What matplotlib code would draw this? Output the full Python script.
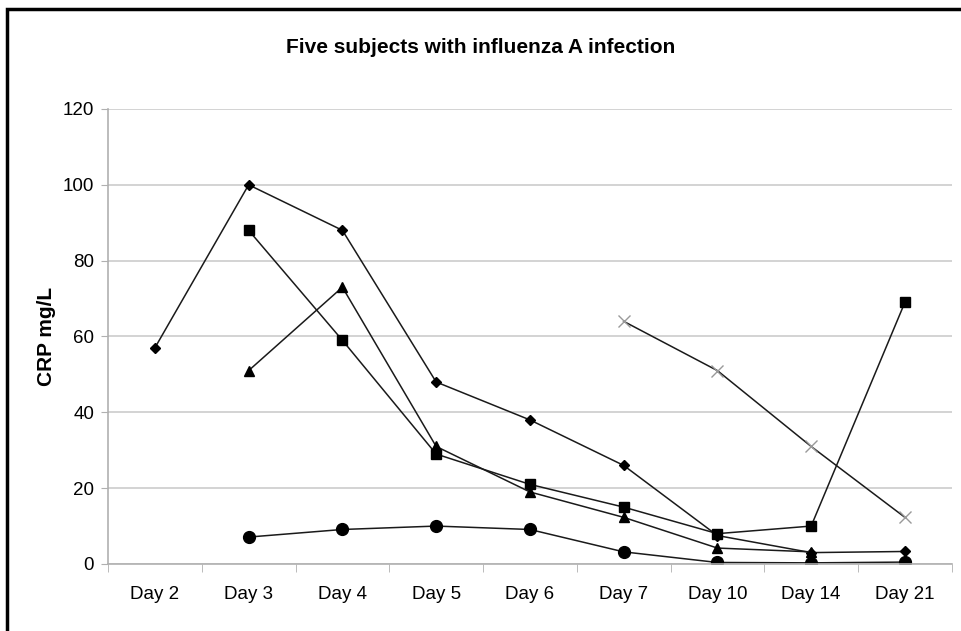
import numpy as np
import matplotlib.pyplot as plt
from matplotlib.patches import Rectangle

days = ['Day 2', 'Day 3', 'Day 4', 'Day 5', 'Day 6', 'Day 7', 'Day 10', 'Day 14', 'Day 21']
nan = np.nan

# CRP values (mg/L) per subject, one value per day (nan = not measured)
subj_diamond = [57, 100, 88, 48, 38, 26, 7.5, 3, 3.3]
subj_square = [nan, 88, 59, 29, 21, 15, 8, 10, 69]
subj_triangle = [nan, 51, 73, 31, 19, 12.3, 4.2, 3.2, nan]
subj_circle = [nan, 7.1, 9.1, 10, 9.1, 3.2, 0.4, 0.3, 0.5]
subj_cross = [nan, nan, nan, nan, nan, 64, 51, 31, 12.3]

plt.rcParams['font.family'] = ['Liberation Sans', 'DejaVu Sans']

fig = plt.figure(figsize=(9.61, 6.31), dpi=100)
ax = fig.add_axes([0.1124, 0.1062, 0.878, 0.7211])

x = np.arange(len(days))
line_kw = dict(color='#1a1a1a', lw=1.1)
ax.plot(x, subj_diamond, marker='D', ms=5.5, mfc='black', mec='black', **line_kw)
ax.plot(x, subj_square, marker='s', ms=7, mfc='black', mec='black', **line_kw)
ax.plot(x, subj_triangle, marker='^', ms=7.5, mfc='black', mec='black', **line_kw)
ax.plot(x, subj_circle, marker='o', ms=8.5, mfc='black', mec='black', **line_kw)
ax.plot(x, subj_cross, marker='x', ms=9, mec='#999999', mew=1.0, **line_kw)

ax.set_xlim(-0.5, len(days) - 0.5)
ax.set_ylim(0, 120)
ax.set_yticks(np.arange(0, 121, 20))
ax.set_xticks(x)
ax.set_xticklabels(days, fontsize=13.5)
ax.set_xticks(np.arange(-0.5, len(days), 1), minor=True)
ax.tick_params(axis='x', which='major', length=0, pad=16)
ax.tick_params(axis='x', which='minor', length=6, color='#b0b0b0', direction='out')
ax.tick_params(axis='y', length=5, color='#b0b0b0', labelsize=13.5, pad=5)
ax.grid(axis='y', color='#cccccc', lw=1.2)
ax.set_axisbelow(True)
for s in ['top', 'right']:
    ax.spines[s].set_visible(False)
for s in ['left', 'bottom']:
    ax.spines[s].set_color('#b0b0b0')
    ax.spines[s].set_linewidth(1.2)

ax.set_ylabel('CRP mg/L', fontsize=15, fontweight='bold', labelpad=5)
fig.text(0.5, 0.925, 'Five subjects with influenza A infection', ha='center', va='center',
         fontsize=15, fontweight='bold')

# outer chart frame
fig.patches.append(Rectangle((0.007, -0.2), 1.2, 0.2 + 0.985, transform=fig.transFigure,
                             fill=False, ec='black', lw=2.5))

fig.savefig('out.png', dpi=100)
